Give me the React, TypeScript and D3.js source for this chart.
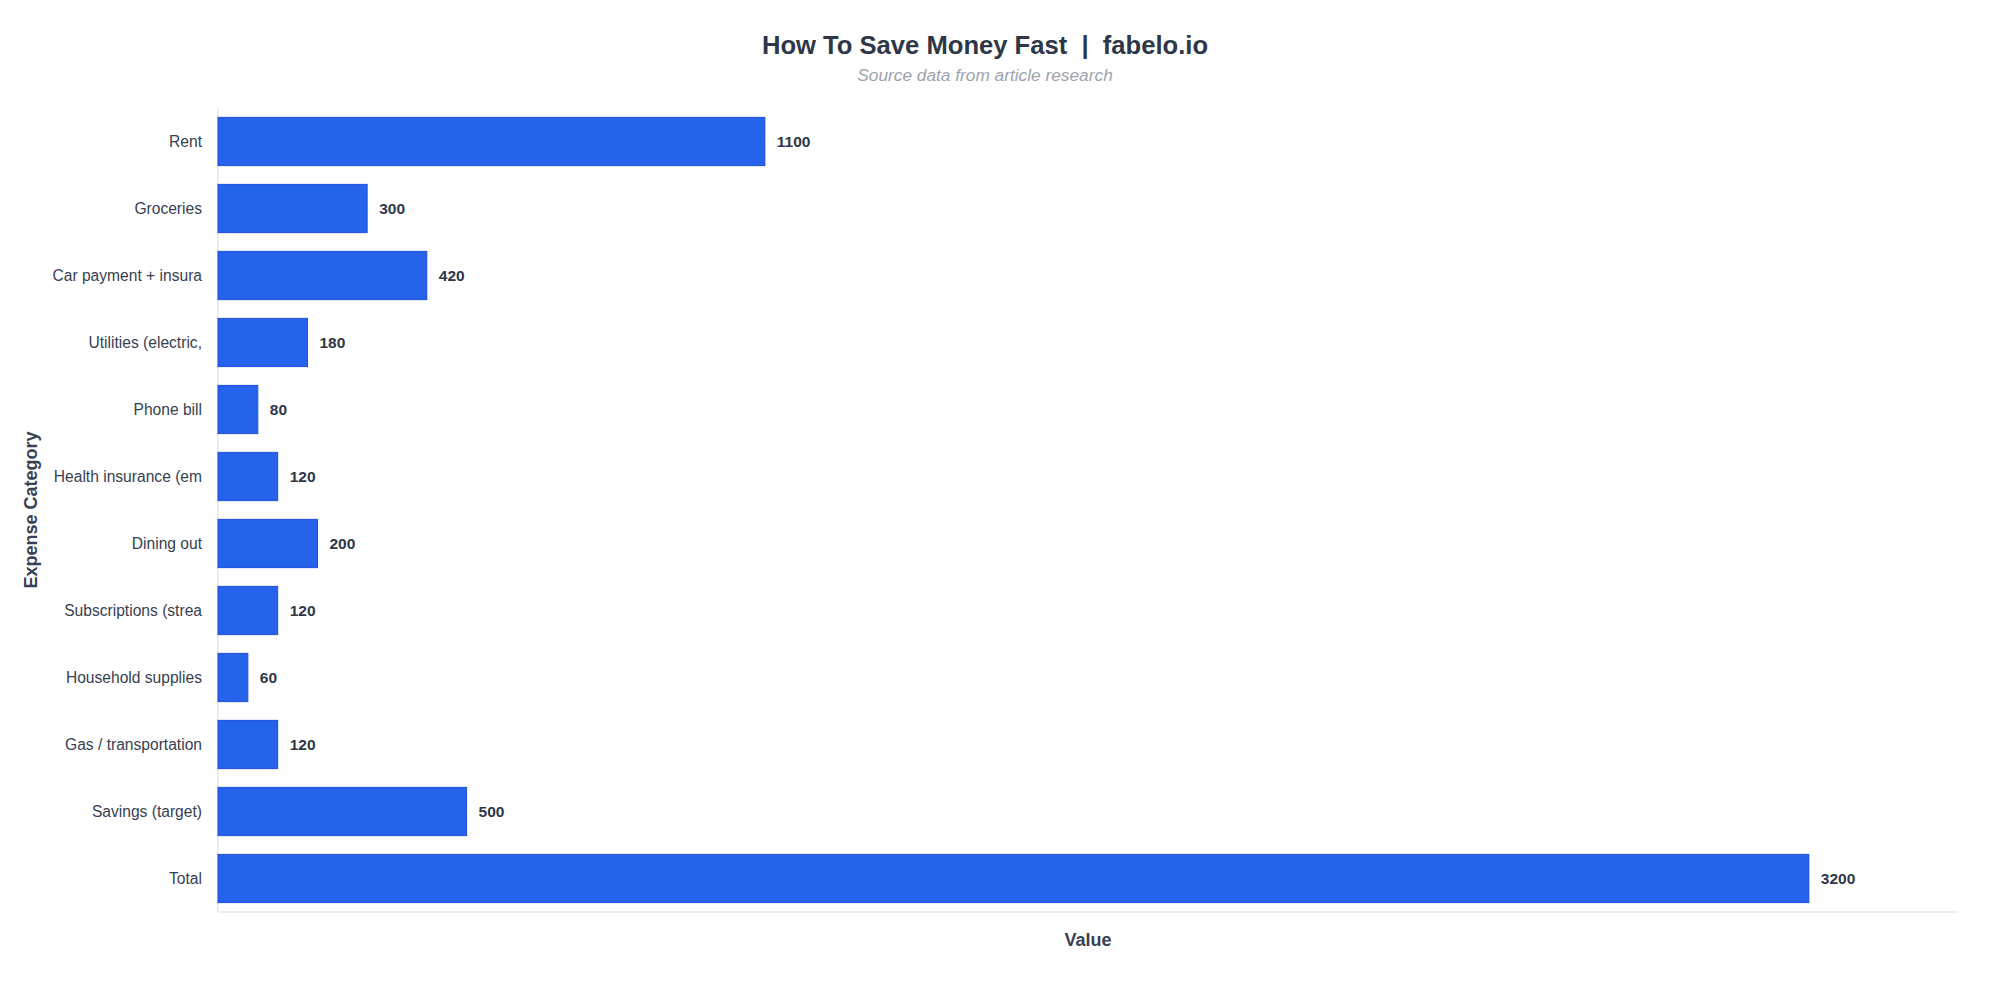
import React from "react";
import * as d3 from "d3";

const categories: string[] = [
  "Rent",
  "Groceries",
  "Car payment + insura",
  "Utilities (electric,",
  "Phone bill",
  "Health insurance (em",
  "Dining out",
  "Subscriptions (strea",
  "Household supplies",
  "Gas / transportation",
  "Savings (target)",
  "Total",
];
const values: number[] = [1100, 300, 420, 180, 80, 120, 200, 120, 60, 120, 500, 3200];
const xDomainMax = 3500;

const W = 2000;
const H = 1000;
const margin = { left: 218, right: 42, top: 108, bottom: 88 };

export default function App() {
  const x = d3
    .scaleLinear()
    .domain([0, xDomainMax])
    .range([margin.left, W - margin.right]);
  const y = d3
    .scaleBand<string>()
    .domain(categories)
    .range([margin.top, H - margin.bottom])
    .paddingInner(0.28)
    .paddingOuter(0.14);

  const font = "'Liberation Sans', Arial, Helvetica, sans-serif";
  const data = categories.map((c, i) => ({ c, v: values[i] }));

  return (
    <svg
      width={W}
      height={H}
      style={{ position: "absolute", left: 0, top: 0, background: "#ffffff" }}
      fontFamily={font}
    >
      <text
        x={985}
        y={54}
        textAnchor="middle"
        fontSize={25.6}
        fontWeight="bold"
        fill="#2d3748"
        style={{ whiteSpace: "pre" }}
      >
        {"How To Save Money Fast  |  fabelo.io"}
      </text>
      <text x={985} y={81} textAnchor="middle" fontSize={17.3} fontStyle="italic" fill="#9ca3af">
        Source data from article research
      </text>

      <line x1={margin.left} x2={margin.left} y1={margin.top} y2={H - margin.bottom} stroke="#e5e7eb" strokeWidth={1.5} />
      <line x1={margin.left} x2={W - margin.right} y1={H - margin.bottom} y2={H - margin.bottom} stroke="#e5e7eb" strokeWidth={1.5} />

      {data.map((d) => {
        const by = y(d.c)!;
        const bw = x(d.v) - x(0);
        return (
          <g key={d.c}>
            <rect
              x={x(0)}
              y={by}
              width={bw}
              height={y.bandwidth()}
              fill="#2563eb"
              stroke="#1d4ed8"
              strokeWidth={1}
            />
            <text
              x={x(d.v) + 12}
              y={by + y.bandwidth() / 2}
              dy="0.35em"
              fontSize={15.5}
              fontWeight="bold"
              fill="#2d3748"
            >
              {d.v}
            </text>
            <text
              x={margin.left - 16}
              y={by + y.bandwidth() / 2}
              dy="0.35em"
              textAnchor="end"
              fontSize={15.6}
              fill="#374151"
            >
              {d.c}
            </text>
          </g>
        );
      })}

      <text
        x={margin.left + (W - margin.right - margin.left) / 2}
        y={946}
        textAnchor="middle"
        fontSize={18}
        fontWeight="bold"
        fill="#374151"
      >
        Value
      </text>
      <text
        transform={`translate(37, ${(margin.top + H - margin.bottom) / 2}) rotate(-90)`}
        textAnchor="middle"
        fontSize={18}
        fontWeight="bold"
        fill="#374151"
      >
        Expense Category
      </text>
    </svg>
  );
}
